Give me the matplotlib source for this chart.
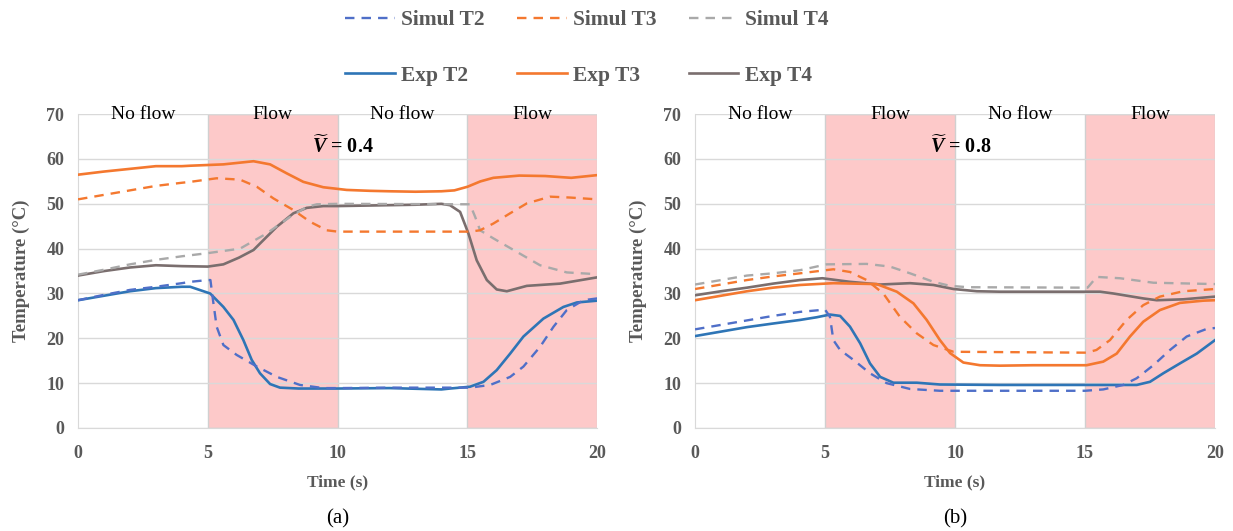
import numpy as np
import matplotlib
matplotlib.use('Agg')
import matplotlib.pyplot as plt
from matplotlib.lines import Line2D

plt.rcParams['font.family'] = ['Liberation Serif', 'DejaVu Serif']
plt.rcParams['mathtext.fontset'] = 'custom'
plt.rcParams['mathtext.rm'] = 'Liberation Serif:bold'
plt.rcParams['mathtext.it'] = 'Liberation Serif:italic:bold'
plt.rcParams['mathtext.bf'] = 'Liberation Serif:bold'

# ---- data (a) V = 0.4 ----
a_t2_exp_x = [0, 1, 2, 3, 4, 4.32, 5.09, 5.6, 5.99, 6.37, 6.69, 7.01, 7.4, 7.78, 8.5, 10, 12, 14, 14.33,
              15.1, 15.62, 16.13, 16.65, 17.16, 17.93, 18.7, 19.22, 20]
a_t2_exp_y = [28.5, 29.5, 30.5, 31.2, 31.5, 31.5, 30.0, 27.0, 24.1, 19.6, 15.2, 12.2, 9.8, 9.0, 8.8, 8.8, 8.9, 8.6, 8.8,
              9.2, 10.3, 12.9, 16.6, 20.4, 24.4, 27.0, 28.0, 28.4]
a_t2_sim_x = [0, 1, 2, 3, 4, 4.32, 5.0, 5.1, 5.2, 5.34, 5.6, 6.11, 6.89, 7.66, 8.55, 9.45, 10, 12, 14, 15.1,
              15.88, 16.65, 17.16, 17.8, 18.32, 18.83, 19.47, 20]
a_t2_sim_y = [28.5, 29.7, 30.8, 31.5, 32.3, 32.6, 33, 33, 28.5, 22.6, 18.5, 16.3, 13.7, 11.4, 9.6, 8.9, 8.9, 9, 9, 9.0,
              9.6, 11.4, 13.7, 18.1, 22.6, 26.3, 28.5, 28.9]
a_t3_exp_x = [0, 1, 2, 3, 4, 4.32, 5.6, 6.76, 7.4, 8.04, 8.68, 9.45, 10.35, 11.25, 12, 13, 14, 14.5, 15, 15.5,
              16, 17, 18, 19, 20]
a_t3_exp_y = [56.5, 57.2, 57.8, 58.4, 58.4, 58.5, 58.8, 59.5, 58.8, 56.8, 54.9, 53.7, 53.1, 52.9, 52.8, 52.7, 52.8,
              53, 53.8, 55, 55.8, 56.3, 56.2, 55.8, 56.4]
a_t3_sim_x = [0, 1, 2, 3, 4, 4.32, 5.34, 6.24, 6.89, 7.53, 8.3, 8.94, 9.58, 10, 15.1, 15.49, 16, 16.65, 17.29,
              18.19, 18.96, 20]
a_t3_sim_y = [51, 52, 53, 54, 54.7, 54.9, 55.7, 55.4, 53.8, 51.2, 48.6, 46.0, 44.1, 43.8, 43.8, 44.1, 45.6, 47.9,
              50.1, 51.6, 51.4, 51.0]
a_t4_exp_x = [0, 1, 2, 3, 4, 5, 5.6, 6.2, 6.76, 7.66, 8.3, 8.81, 9.45, 10, 11, 12, 13, 14, 14.33, 14.72, 15.04,
              15.36, 15.75, 16.13, 16.52, 17.29, 18.57, 20]
a_t4_exp_y = [34, 35, 35.8, 36.3, 36.1, 36, 36.5, 38, 39.7, 44.9, 47.9, 49.1, 49.5, 49.5, 49.6, 49.7, 49.8, 50,
              49.7, 48.2, 43.4, 37.4, 33.0, 30.9, 30.5, 31.7, 32.2, 33.6]
a_t4_sim_x = [0, 1, 2, 3, 4, 5, 6.24, 7.27, 8.17, 8.81, 9.2, 10, 15.1, 15.3, 15.49, 16.0, 16.9, 17.8, 18.83, 20]
a_t4_sim_y = [34.2, 35.3, 36.5, 37.5, 38.3, 39, 40.0, 43.4, 47.1, 49.3, 49.9, 50, 49.9, 47.1, 44.1, 42.3, 39.3,
              36.3, 34.7, 34.3]

# ---- data (b) V = 0.8 ----
b_t2_exp_x = [0, 1, 2, 3, 4.04, 4.68, 5.19, 5.58, 5.96, 6.35, 6.73, 7.12, 7.63, 8.53, 9.42, 11.73, 15, 16.99,
              17.5, 18.01, 18.65, 19.3, 20]
b_t2_exp_y = [20.5, 21.5, 22.5, 23.3, 24.1, 24.7, 25.3, 25.0, 22.6, 18.9, 14.4, 11.4, 10.1, 10.1, 9.7, 9.6, 9.6, 9.6,
              10.3, 12.2, 14.4, 16.6, 19.6]
b_t2_sim_x = [0, 1, 2, 3, 4.04, 5.0, 5.19, 5.32, 5.58, 6.09, 6.73, 7.37, 8.27, 9.42, 15, 15.7, 16.47, 16.99, 17.63,
              18.27, 18.91, 19.68, 20]
b_t2_sim_y = [22, 23, 24, 25, 25.9, 26.4, 24.8, 19.6, 17.4, 15.2, 12.2, 10.0, 8.7, 8.3, 8.3, 8.6, 9.6, 11.1, 14.0,
              17.4, 20.4, 22.1, 22.3]
b_t3_exp_x = [0, 1, 2, 3, 4.04, 5.32, 6.99, 7.76, 8.4, 8.91, 9.42, 9.81, 10.32, 10.96, 11.73, 13, 15.06, 15.7,
              16.22, 16.73, 17.24, 17.88, 18.65, 19.55, 20]
b_t3_exp_y = [28.5, 29.5, 30.5, 31.3, 31.9, 32.3, 32.1, 30.4, 27.8, 24.1, 19.6, 16.7, 14.6, 14.0, 13.9, 14.0, 14.0,
              14.8, 16.6, 20.4, 23.7, 26.3, 27.9, 28.4, 28.5]
b_t3_sim_x = [0, 1, 2, 3, 4.04, 5.32, 5.96, 6.6, 7.24, 7.88, 8.53, 9.17, 9.94, 15.06, 15.44, 15.96, 16.6, 17.24,
              17.88, 18.78, 20]
b_t3_sim_y = [31, 32, 33, 33.8, 34.5, 35.4, 34.8, 33.0, 30.0, 24.8, 21.1, 18.5, 17.0, 16.8, 17.4, 19.6, 24.1, 27.4,
              29.3, 30.5, 31.0]
b_t4_exp_x = [0, 1, 2, 3, 4.04, 4.9, 5.96, 7.12, 8.27, 9.17, 9.94, 10.84, 11.73, 15.58, 16.09, 17.24, 17.76,
              18.78, 20]
b_t4_exp_y = [29.6, 30.5, 31.3, 32.2, 33.0, 33.4, 32.6, 32.0, 32.3, 31.9, 31.0, 30.5, 30.4, 30.4, 30.0, 28.9, 28.5,
              28.7, 29.3]
b_t4_sim_x = [0, 1, 2, 3, 4.04, 5.06, 6.6, 7.5, 8.27, 9.17, 9.81, 10.5, 15.1, 15.45, 16.35, 17.63, 20]
b_t4_sim_y = [32, 33, 34, 34.5, 35.2, 36.5, 36.6, 36.0, 34.5, 32.6, 31.7, 31.4, 31.3, 33.7, 33.4, 32.4, 32.1]

flow_spans = [(5, 10), (15, 20)]
phase_labels = ['No flow', 'Flow', 'No flow', 'Flow']
phase_centers = [2.5, 7.5, 12.5, 17.5]

c_blue = '#2E75B6'
c_blue_d = '#4F6FC8'
c_orange = '#F4782F'
c_gray = '#7A6E6E'
c_gray_d = '#A9A9A9'
c_pink = '#FDC9C9'
c_text = '#595959'

fig = plt.figure(figsize=(12.33, 5.31), dpi=100)
ax1 = fig.add_axes([0.0633, 0.194, 0.421, 0.591])
ax2 = fig.add_axes([0.5637, 0.194, 0.4217, 0.591])

panels = [
    (ax1, '0.4', '(a)',
     (a_t2_sim_x, a_t2_sim_y), (a_t3_sim_x, a_t3_sim_y), (a_t4_sim_x, a_t4_sim_y),
     (a_t2_exp_x, a_t2_exp_y), (a_t3_exp_x, a_t3_exp_y), (a_t4_exp_x, a_t4_exp_y)),
    (ax2, '0.8', '(b)',
     (b_t2_sim_x, b_t2_sim_y), (b_t3_sim_x, b_t3_sim_y), (b_t4_sim_x, b_t4_sim_y),
     (b_t2_exp_x, b_t2_exp_y), (b_t3_exp_x, b_t3_exp_y), (b_t4_exp_x, b_t4_exp_y)),
]

for ax, vval, tag, s2, s3, s4, e2, e3, e4 in panels:
    for x0, x1 in flow_spans:
        ax.axvspan(x0, x1, facecolor=c_pink, edgecolor='#D0D0D0', lw=1, zorder=0)
    ax.set_xlim(0, 20)
    ax.set_ylim(0, 70)
    ax.set_yticks(range(0, 71, 10))
    ax.set_xticks(range(0, 21, 5))
    ax.grid(axis='y', color='#D9D9D9', lw=1)
    ax.set_axisbelow(True)
    for sp in ['top', 'right']:
        ax.spines[sp].set_visible(False)
    for sp in ['left', 'bottom']:
        ax.spines[sp].set_color('#D9D9D9')
    ax.tick_params(length=0, labelsize=13, labelcolor=c_text)
    ax.tick_params(axis='x', pad=12)
    ax.tick_params(axis='y', pad=10)
    for lab in ax.get_xticklabels() + ax.get_yticklabels():
        lab.set_fontweight('bold')

    ax.plot(*e4, color=c_gray, lw=1.9, zorder=3)
    ax.plot(*s4, color=c_gray_d, lw=1.7, ls=(0, (4, 3)), zorder=3)
    ax.plot(*e3, color=c_orange, lw=1.9, zorder=3)
    ax.plot(*s3, color=c_orange, lw=1.7, ls=(0, (4, 3)), zorder=3)
    ax.plot(*e2, color=c_blue, lw=1.9, zorder=3)
    ax.plot(*s2, color=c_blue_d, lw=1.7, ls=(0, (4, 3)), zorder=3)

    for xc, lab in zip(phase_centers, phase_labels):
        ax.text(xc, 70, lab, ha='center', va='center', fontsize=14, color='black', zorder=4)
    ax.text(10.2, 62.7, r'$\widetilde{V}$ = ' + vval, ha='center', va='center',
            fontsize=14.5, fontweight='bold', zorder=4)

    ax.set_xlabel('Time (s)', fontsize=12.5, fontweight='bold', color=c_text, labelpad=9)
    ax.set_ylabel('Temperature (°C)', fontsize=13.5, fontweight='bold', color=c_text, labelpad=12)
    ax.text(0.5, -0.29, tag, transform=ax.transAxes, ha='center', va='center', fontsize=15)

handles = [
    Line2D([], [], color=c_blue_d, lw=1.7, ls=(0, (4, 3))),
    Line2D([], [], color=c_blue, lw=1.9),
    Line2D([], [], color=c_orange, lw=1.7, ls=(0, (4, 3))),
    Line2D([], [], color=c_orange, lw=1.9),
    Line2D([], [], color=c_gray_d, lw=1.7, ls=(0, (4, 3))),
    Line2D([], [], color=c_gray, lw=1.9),
]
labels = ['Simul T2', 'Exp T2', 'Simul T3', 'Exp T3', 'Simul T4', 'Exp T4']
leg = fig.legend(handles, labels, ncol=3, loc='upper center', bbox_to_anchor=(0.476, 1.017),
                 frameon=False, handlelength=2.3, handletextpad=0.3, columnspacing=1.5,
                 labelspacing=1.63, prop={'weight': 'bold', 'size': 15.5})
for t in leg.get_texts():
    t.set_color(c_text)

fig.savefig('out.png', dpi=100)
